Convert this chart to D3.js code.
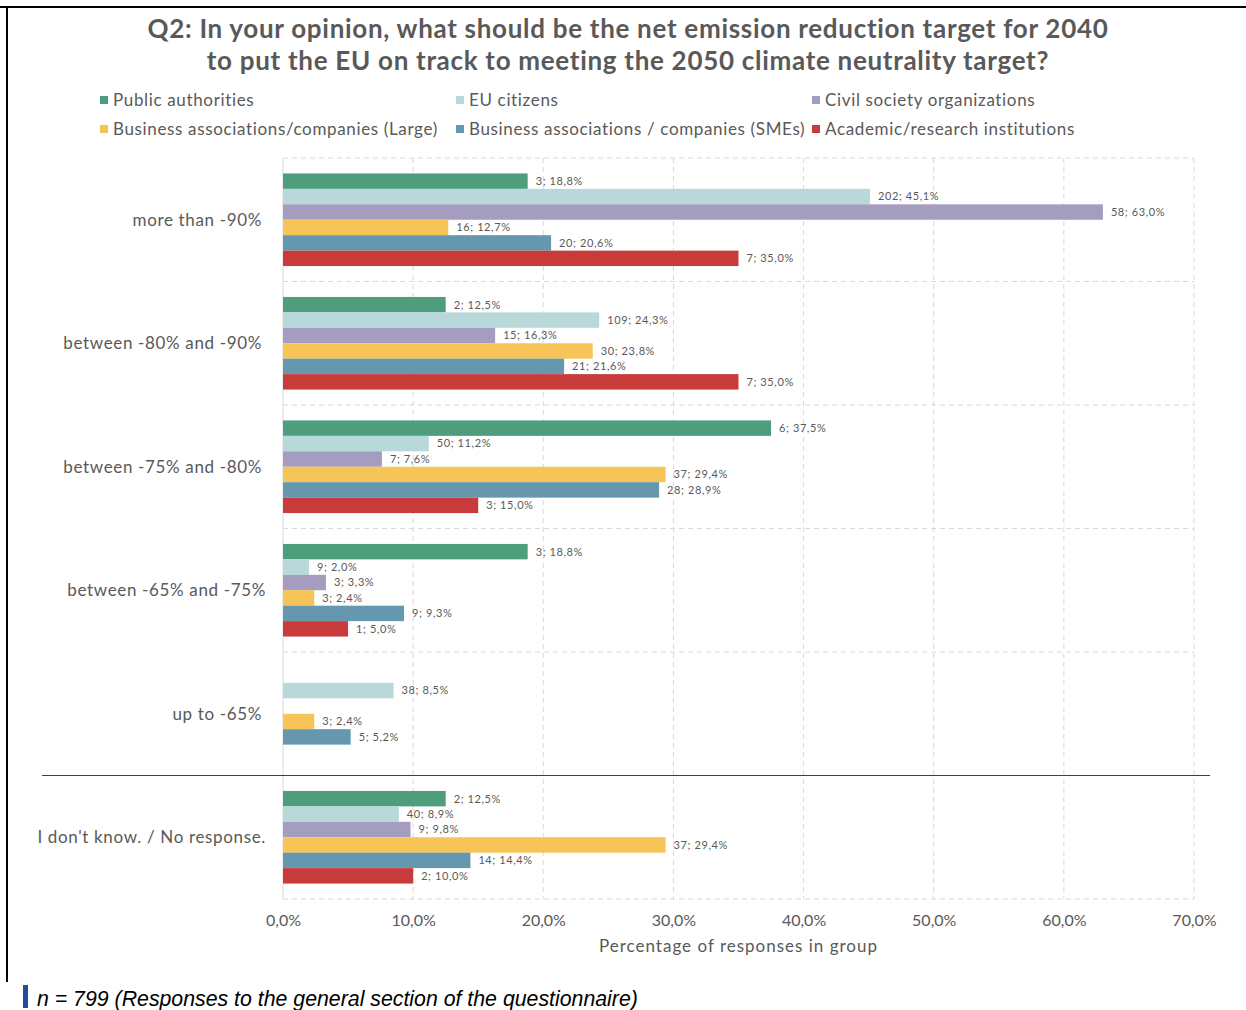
<!DOCTYPE html>
<html>
<head>
<meta charset="utf-8">
<script src="https://cdn.jsdelivr.net/npm/d3@7"></script>
<style>
  html, body { margin: 0; padding: 0; background: #fff; }
  svg { display: block; }
  .chart-text { font-family: "Lato", "Open Sans", sans-serif; fill: #595959; }
</style>
</head>
<body>
<svg id="chart" width="1246" height="1010"></svg>
<script>
// Answer categories (top to bottom)
const categories = [
  "more than -90%",
  "between -80% and -90%",
  "between -75% and -80%",
  "between -65% and -75%",
  "up to -65%",
  "I don't know. / No response."
];

// Respondent groups
const groups = [
  "Public authorities",
  "EU citizens",
  "Civil society organizations",
  "Business associations/companies (Large)",
  "Business associations / companies (SMEs)",
  "Academic/research institutions"
];

const groupColors = ["#4e9e7e", "#b9d8da", "#a59dc0", "#f7c457", "#6598ae", "#c83b3b"];

// Share of responses in each group (%), null = no response in that category
const publicAuthoritiesPct = [18.8, 12.5, 37.5, 18.8, null, 12.5];
const euCitizensPct        = [45.1, 24.3, 11.2, 2.0, 8.5, 8.9];
const civilSocietyPct      = [63.0, 16.3, 7.6, 3.3, null, 9.8];
const businessLargePct     = [12.7, 23.8, 29.4, 2.4, 2.4, 29.4];
const businessSmePct       = [20.6, 21.6, 28.9, 9.3, 5.2, 14.4];
const academicPct          = [35.0, 35.0, 15.0, 5.0, null, 10.0];

// Number of responses behind each share
const publicAuthoritiesN = [3, 2, 6, 3, null, 2];
const euCitizensN        = [202, 109, 50, 9, 38, 40];
const civilSocietyN      = [58, 15, 7, 3, null, 9];
const businessLargeN     = [16, 30, 37, 3, 3, 37];
const businessSmeN       = [20, 21, 28, 9, 5, 14];
const academicN          = [7, 7, 3, 1, null, 2];

const xTicks = [0, 10, 20, 30, 40, 50, 60, 70];

const pctSeries = [publicAuthoritiesPct, euCitizensPct, civilSocietyPct, businessLargePct, businessSmePct, academicPct];
const nSeries = [publicAuthoritiesN, euCitizensN, civilSocietyN, businessLargeN, businessSmeN, academicN];

const svg = d3.select("#chart");

// Outer frame (top and left rules)
svg.append("line").attr("x1", 0).attr("x2", 1246).attr("y1", 7).attr("y2", 7)
  .attr("stroke", "#000").attr("stroke-width", 2);
svg.append("line").attr("x1", 7).attr("x2", 7).attr("y1", 6).attr("y2", 982)
  .attr("stroke", "#000").attr("stroke-width", 2);

// Title
const title = svg.append("text").attr("class", "chart-text")
  .attr("text-anchor", "middle").attr("font-weight", "bold").attr("font-size", 26)
  .attr("letter-spacing", 0.7);
title.append("tspan").attr("x", 628).attr("y", 38)
  .text("Q2: In your opinion, what should be the net emission reduction target for 2040");
title.append("tspan").attr("x", 628).attr("y", 70)
  .text("to put the EU on track to meeting the 2050 climate neutrality target?");

// Legend: three columns, two rows
const legend = svg.append("g");
groups.forEach((g, i) => {
  const col = i % 3, row = Math.floor(i / 3);
  const lx = 100 + col * 356, ly = 100 + row * 29;
  legend.append("rect").attr("x", lx).attr("y", ly - 4).attr("width", 8).attr("height", 8)
    .attr("fill", groupColors[i]);
  legend.append("text").attr("class", "chart-text")
    .attr("x", lx + 13).attr("y", ly).attr("dy", "0.35em")
    .attr("font-size", 17).attr("letter-spacing", 0.65).text(g);
});

// Plot area
const plotLeft = 283, plotRight = 1194, plotTop = 158, plotBottom = 899;

const x = d3.scaleLinear().domain([0, 70]).range([plotLeft, plotRight]);
const y = d3.scaleBand().domain(categories).range([plotTop, plotBottom]).paddingInner(0).paddingOuter(0);
const inner = d3.scaleBand().domain(d3.range(groups.length)).range([0, y.bandwidth()]).paddingOuter(1.0).paddingInner(0);

// Vertical dashed gridlines
svg.append("g").selectAll("line").data(xTicks.slice(1)).join("line")
  .attr("x1", d => x(d)).attr("x2", d => x(d))
  .attr("y1", plotTop).attr("y2", plotBottom)
  .attr("stroke", "#d9d9d9").attr("stroke-dasharray", "5,4");

// Horizontal dashed gridlines at category boundaries
const boundaries = categories.map(c => y(c)).concat([plotBottom]);
svg.append("g").selectAll("line").data(boundaries).join("line")
  .attr("x1", plotLeft).attr("x2", plotRight)
  .attr("y1", d => d).attr("y2", d => d)
  .attr("stroke", "#d9d9d9").attr("stroke-dasharray", "5,4");

// Value axis line
svg.append("line").attr("x1", plotLeft).attr("x2", plotLeft)
  .attr("y1", plotTop).attr("y2", plotBottom).attr("stroke", "#d9d9d9");

// Bars and data labels
const barData = [];
categories.forEach((c, ci) => {
  groups.forEach((g, gi) => {
    const v = pctSeries[gi][ci];
    if (v === null) return;
    barData.push({ cat: c, gi, v, n: nSeries[gi][ci] });
  });
});

const bars = svg.append("g");
bars.selectAll("rect").data(barData).join("rect")
  .attr("x", x(0))
  .attr("y", d => y(d.cat) + inner(d.gi))
  .attr("width", d => x(d.v) - x(0))
  .attr("height", inner.bandwidth())
  .attr("fill", d => groupColors[d.gi]);

const fmt = v => v.toFixed(1).replace(".", ",");
bars.selectAll("text").data(barData).join("text")
  .attr("class", "chart-text")
  .attr("x", d => x(d.v) + 8)
  .attr("y", d => y(d.cat) + inner(d.gi) + inner.bandwidth() / 2)
  .attr("dy", "0.35em")
  .attr("font-size", 11)
  .attr("letter-spacing", 0.6)
  .text(d => `${d.n}; ${fmt(d.v)}%`);

// Separator above the non-response category
const sepY = y(categories[5]);
svg.append("line").attr("x1", 42).attr("x2", 1210).attr("y1", sepY).attr("y2", sepY)
  .attr("stroke", "#404040").attr("stroke-width", 1);

// Category labels
svg.append("g").selectAll("text").data(categories).join("text")
  .attr("class", "chart-text")
  .attr("x", (d, i) => (i >= 3 && i !== 4) ? 266 : 262)
  .attr("y", d => y(d) + y.bandwidth() / 2)
  .attr("dy", "0.35em")
  .attr("text-anchor", "end")
  .attr("font-size", 17)
  .attr("letter-spacing", 0.65)
  .text(d => d);

// X axis
const xAxis = d3.axisBottom(x).tickValues(xTicks).tickSize(0).tickPadding(16)
  .tickFormat(d => fmt(d) + "%");
const axisG = svg.append("g").attr("transform", `translate(0,${plotBottom})`).call(xAxis);
axisG.select(".domain").remove();
axisG.selectAll("text").attr("class", "chart-text").attr("font-size", 16)
  .attr("font-family", "Lato, 'Open Sans', sans-serif").attr("fill", "#595959");

svg.append("text").attr("class", "chart-text")
  .attr("x", (plotLeft + plotRight) / 2).attr("y", 952)
  .attr("text-anchor", "middle").attr("font-size", 17).attr("letter-spacing", 1)
  .text("Percentage of responses in group");

// Footnote
svg.append("rect").attr("x", 23).attr("y", 985).attr("width", 5).attr("height", 23).attr("fill", "#1f4e9c");
svg.append("text")
  .attr("x", 37).attr("y", 1006)
  .attr("font-family", "'Liberation Sans', Arial, sans-serif")
  .attr("font-style", "italic").attr("font-size", 21.3).attr("fill", "#000")
  .text("n = 799 (Responses to the general section of the questionnaire)");
</script>
</body>
</html>
